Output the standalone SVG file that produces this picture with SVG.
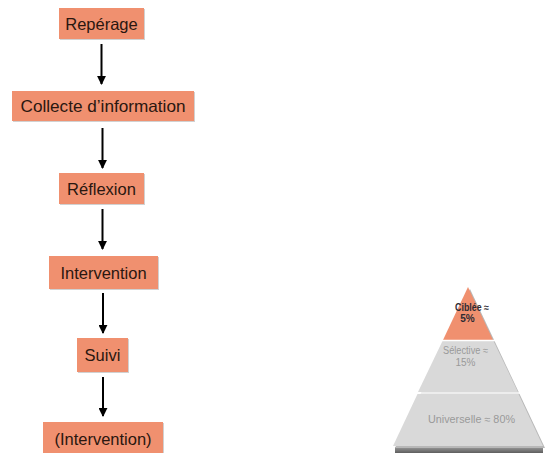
<svg xmlns="http://www.w3.org/2000/svg" width="547" height="453" viewBox="0 0 547 453">
  <defs>
    <style>
      .box { fill: #F0906F; }
      .shadow { fill: #000; opacity: 0.18; }
      .lbl { font-family: "Liberation Sans", Arial, sans-serif; font-size: 16.5px; fill: #2a1710; text-anchor: middle; }
      .conn { stroke: #000; stroke-width: 2; fill: none; marker-end: url(#arrow); }
      .pyr { font-family: "Liberation Sans", Arial, sans-serif; font-size: 10px; text-anchor: middle; }
    </style>
    <marker id="arrow" viewBox="0 0 10 10" refX="9" refY="5" markerWidth="4.5" markerHeight="4.5" orient="auto" markerUnits="strokeWidth">
      <path d="M0,0 L10,5 L0,10 z" fill="#000"/>
    </marker>
    <linearGradient id="baseShade" x1="0" y1="0" x2="0" y2="1">
      <stop offset="0" stop-color="#9a9a9a"/>
      <stop offset="1" stop-color="#5e5e5e"/>
    </linearGradient>
  </defs>

  <!-- process steps -->
  <g id="reperage">
    <rect class="shadow" x="60" y="9" width="85" height="31"/>
    <rect class="box" x="59" y="8" width="85" height="31"/>
    <text class="lbl" x="101.5" y="29.5">Repérage</text>
  </g>
  <g id="collecte">
    <rect class="shadow" x="13" y="92" width="182" height="30"/>
    <rect class="box" x="12" y="91" width="182" height="30"/>
    <text class="lbl" x="103" y="112" textLength="165" lengthAdjust="spacingAndGlyphs">Collecte d’information</text>
  </g>
  <g id="reflexion">
    <rect class="shadow" x="60" y="174" width="85" height="31"/>
    <rect class="box" x="59" y="173" width="85" height="31"/>
    <text class="lbl" x="101.5" y="194.5">Réflexion</text>
  </g>
  <g id="intervention">
    <rect class="shadow" x="50" y="257" width="109" height="33"/>
    <rect class="box" x="49" y="256" width="109" height="33"/>
    <text class="lbl" x="103.5" y="278.5">Intervention</text>
  </g>
  <g id="suivi">
    <rect class="shadow" x="78" y="339" width="51" height="34"/>
    <rect class="box" x="77" y="338" width="51" height="34"/>
    <text class="lbl" x="102.5" y="360.5">Suivi</text>
  </g>
  <g id="intervention2">
    <rect class="shadow" x="44" y="423" width="120" height="32"/>
    <rect class="box" x="43" y="422" width="120" height="32"/>
    <text class="lbl" x="103" y="444.5">(Intervention)</text>
  </g>

  <!-- connectors -->
  <g id="connectors">
    <line class="conn" x1="101.5" y1="44" x2="101.5" y2="84"/>
    <line class="conn" x1="102.5" y1="128" x2="102.5" y2="168"/>
    <line class="conn" x1="102.5" y1="209" x2="102.5" y2="249"/>
    <line class="conn" x1="103" y1="293" x2="103" y2="333"/>
    <line class="conn" x1="103" y1="377" x2="103" y2="416"/>
  </g>

  <!-- prevention pyramid -->
  <g id="pyramid">
    <rect x="395" y="447" width="148" height="6" fill="url(#baseShade)"/>
    <polygon points="470,289 545,448 395,448" fill="#b8b8b8"/>
    <polygon points="468,287 443,340 493,340" fill="#F0906F"/>
    <polygon points="442.5,341 493.5,341 518,392 418,392" fill="#d9d9d9"/>
    <polygon points="417.5,394 518.5,394 543,446 393,446" fill="#d9d9d9"/>
    <line x1="441" y1="340.5" x2="495" y2="340.5" stroke="#fff" stroke-width="1.5"/>
    <line x1="416" y1="393" x2="520" y2="393" stroke="#fff" stroke-width="1.5"/>
    <text class="pyr" x="472" y="311" fill="#2e2b33" font-weight="bold" textLength="34" lengthAdjust="spacingAndGlyphs">Ciblée ≈</text>
    <text class="pyr" x="467.5" y="322" fill="#2e2b33" font-weight="bold">5%</text>
    <text class="pyr" x="465.5" y="354" fill="#9a9a9a" textLength="45" lengthAdjust="spacingAndGlyphs">Sélective ≈</text>
    <text class="pyr" x="465.5" y="366" fill="#9a9a9a">15%</text>
    <text class="pyr" x="471.5" y="423" fill="#9a9a9a" textLength="87" lengthAdjust="spacingAndGlyphs">Universelle ≈ 80%</text>
  </g>
</svg>
